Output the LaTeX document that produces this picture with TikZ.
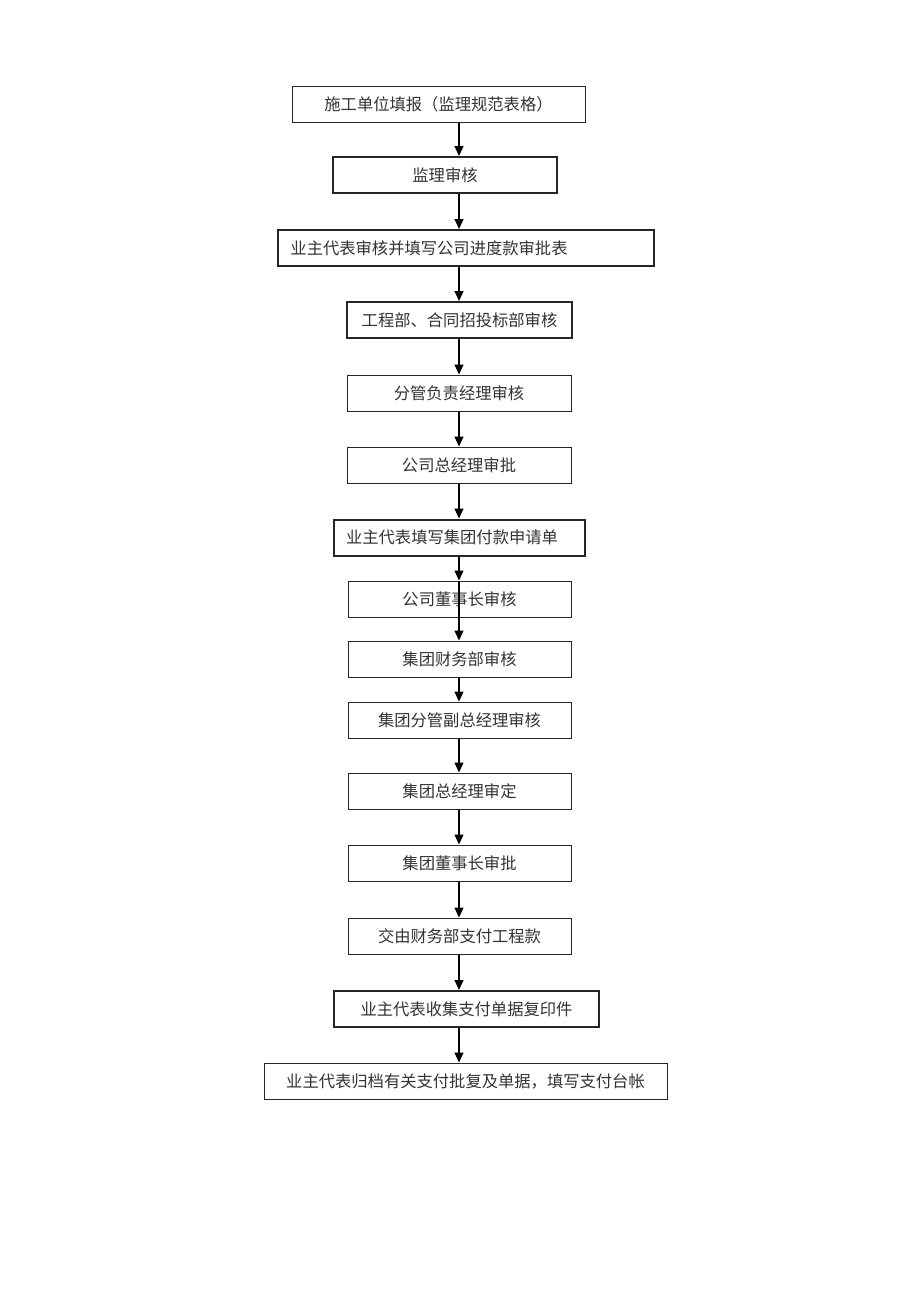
\documentclass[tikz,border=0pt]{standalone}
\usepackage{fontspec}
\newfontfamily\cjk{Noto Sans CJK SC}[FakeStretch=1.0]
\usetikzlibrary{arrows.meta}
\begin{document}
\begin{tikzpicture}[x=1pt,y=-1pt,
  box/.style={draw=black!85,line width=1pt,fill=white,minimum height=36pt,inner sep=0pt,font=\cjk\fontsize{16.3}{18}\selectfont,text=black!80},
  boxthick/.style={box,line width=2pt},
  lbl/.style={inner sep=0pt,font=\cjk\fontsize{16.3}{18}\selectfont,text=black!80},
  arr/.style={draw=black,line width=1.2pt,-{Triangle[length=10pt,width=9pt]}}]
\useasboundingbox (0,0) rectangle (920,1302);
\coordinate (ax) at (459,0);
\node[box,minimum width=293pt] (b1) at (438.5,104.5) {施工单位填报（监理规范表格）};
\node[boxthick,minimum width=224pt] (b2) at (445,175) {监理审核};
\node[boxthick,minimum width=376pt] (b3) at (466,248) {};
\node[lbl] (t3) at (429,248) {业主代表审核并填写公司进度款审批表};
\node[boxthick,minimum width=225pt] (b4) at (459.5,320) {工程部、合同招投标部审核};
\node[box,minimum width=224pt] (b5) at (459,393) {分管负责经理审核};
\node[box,minimum width=224pt] (b6) at (459,465) {公司总经理审批};
\node[boxthick,minimum width=251pt] (b7) at (459.5,537.5) {};
\node[lbl] (t7) at (452,537.5) {业主代表填写集团付款申请单};
\node[box,minimum width=223pt] (b8) at (459.5,599) {公司董事长审核};
\node[box,minimum width=223pt] (b9) at (459.5,659) {集团财务部审核};
\node[box,minimum width=223pt] (b10) at (459.5,720) {集团分管副总经理审核};
\node[box,minimum width=223pt] (b11) at (459.5,791) {集团总经理审定};
\node[box,minimum width=223pt] (b12) at (459.5,863) {集团董事长审批};
\node[box,minimum width=223pt] (b13) at (459.5,936) {交由财务部支付工程款};
\node[boxthick,minimum width=265pt] (b14) at (466.5,1009) {业主代表收集支付单据复印件};
\node[box,minimum width=403pt] (b15) at (465.5,1081) {业主代表归档有关支付批复及单据，填写支付台帐};
\draw[arr] (b1.south -| ax) -- (b2.north -| ax);
\draw[arr] (b2.south -| ax) -- (b3.north -| ax);
\draw[arr] (b3.south -| ax) -- (b4.north -| ax);
\draw[arr] (b4.south -| ax) -- (b5.north -| ax);
\draw[arr] (b5.south -| ax) -- (b6.north -| ax);
\draw[arr] (b6.south -| ax) -- (b7.north -| ax);
\draw[arr] (b7.south -| ax) -- (b8.north -| ax);
\draw[arr] (b8.north -| ax) -- (b9.north -| ax);
\draw[arr] (b9.south -| ax) -- (b10.north -| ax);
\draw[arr] (b10.south -| ax) -- (b11.north -| ax);
\draw[arr] (b11.south -| ax) -- (b12.north -| ax);
\draw[arr] (b12.south -| ax) -- (b13.north -| ax);
\draw[arr] (b13.south -| ax) -- (b14.north -| ax);
\draw[arr] (b14.south -| ax) -- (b15.north -| ax);
\end{tikzpicture}
\end{document}
